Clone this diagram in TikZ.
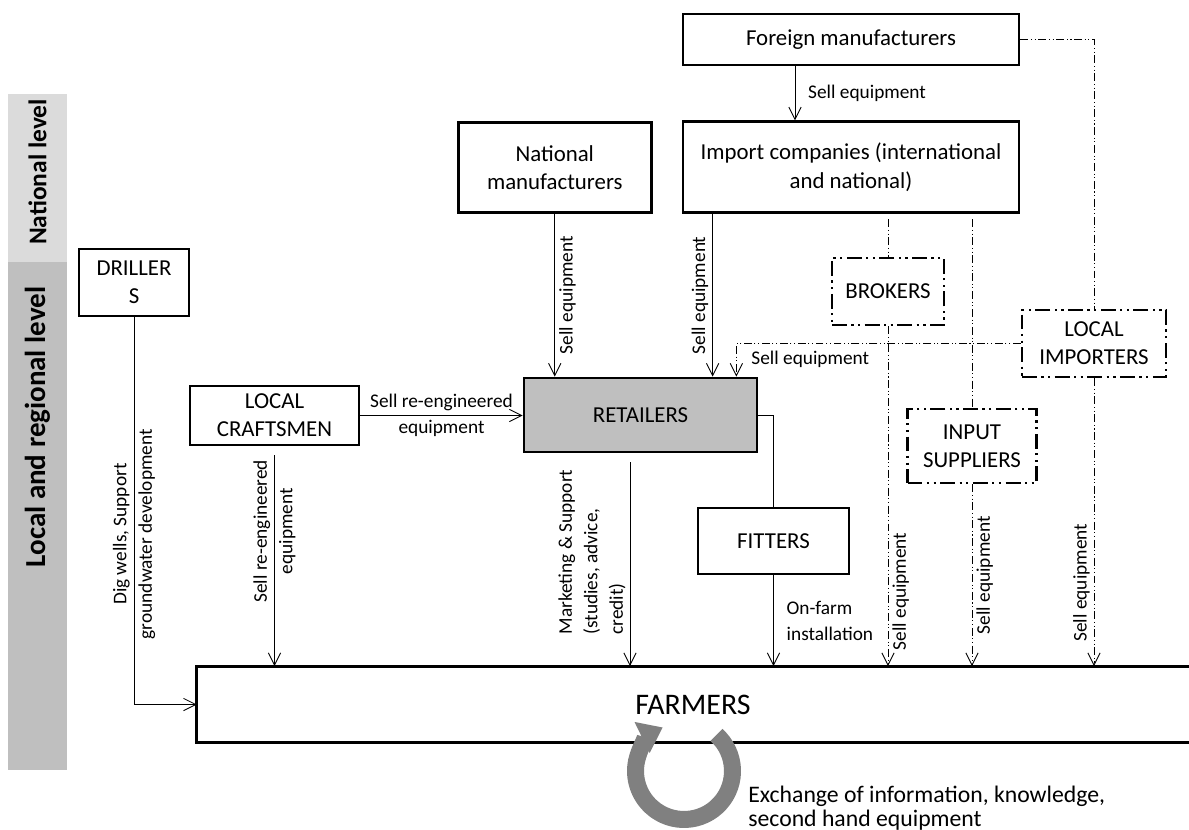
\documentclass[tikz,border=0pt]{standalone}
\usepackage{fontspec}
\setmainfont{Carlito}
\usetikzlibrary{positioning,arrows.meta}

\begin{document}
\begin{tikzpicture}[x=0.02cm, y=-0.02cm,
    box/.style={draw, line width=1.6pt, inner sep=0pt, align=center,
      font=\fontsize{13}{16}\selectfont},
    dbox/.style={box, dash pattern=on 8.5pt off 2.5pt on 1.3pt off 2.5pt on 1.3pt off 2.5pt},
    lbl/.style={inner sep=0pt, outer sep=2.5pt, align=center,
      font=\fontsize{11}{14.5}\selectfont},
    vlbl/.style={lbl, rotate=90},
    flow/.style={line width=0.5pt, -{Straight Barb[length=7pt,width=7pt]}},
    dline/.style={line width=0.5pt, dash pattern=on 4.5pt off 1.5pt on 0.6pt off 1.5pt on 0.6pt off 1.5pt},
    dflow/.style={flow, dline},
    level/.style={rotate=90, inner sep=0pt, font=\fontsize{#1}{18}\selectfont\bfseries}]

  \useasboundingbox (0,0) rectangle (1189,830);

  % levels
  \fill[black!14] (8,94) rectangle (67,262);
  \fill[black!25] (8,262) rectangle (67,770);
  \node[level=14.5] (natlev) at (37.5,172) {National level};
  \node[level=16.5] (loclev) at (37.5,427) {Local and regional level};

  \node[box, minimum width=6.72cm, minimum height=1.02cm] (frgn) at (851,39.5) {Foreign manufacturers};
    \node[box, minimum width=6.72cm, minimum height=1.82cm] (imp) [below=1.08cm of frgn] {Import companies (international\\and national)};
    \node[box, minimum width=3.86cm, minimum height=1.8cm] (natm) [left=0.58cm of imp] {National\\manufacturers};

  \node[box, fill=black!25, minimum width=4.66cm, minimum height=1.48cm] (ret) at (640.5,415) {RETAILERS};
  \node[box, minimum width=3.38cm, minimum height=1.18cm] (lcr) at (274.5,415.5) {LOCAL\\CRAFTSMEN};
  \node[box, minimum width=2.2cm, minimum height=1.34cm] (drl) at (134,282.5) {DRILLER\\S};
  \node[box, minimum width=3.02cm, minimum height=1.32cm] (fit) at (773.5,541) {FITTERS};

  \node[dbox, minimum width=2.24cm, minimum height=1.34cm] (brk) at (888,291.5) {BROKERS};
  \node[dbox, minimum width=2.88cm, minimum height=1.34cm] (limp) at (1094,343.5) {LOCAL\\IMPORTERS};
  \node[dbox, minimum width=2.58cm, minimum height=1.48cm] (inp) at (972,446) {INPUT\\SUPPLIERS};

  \node[minimum width=19.84cm, minimum height=1.52cm, font=\fontsize{17}{20}\selectfont] (farm) at (693,704.5) {FARMERS};
  \draw[line width=1.6pt] (farm.north east) -- (farm.north west) -- (farm.south west) -- (farm.south east);

  % national supply
  \draw[flow] ([xshift=-1.12cm]frgn.south) -- ([xshift=-1.12cm]imp.north)
    node[lbl, midway, right=5pt] {Sell equipment};
  \draw[flow] (natm.south) -- (natm.south |- ret.north) node[vlbl, midway, anchor=north] {Sell equipment};
  \coordinate (impout) at ([xshift=0.62cm]imp.south west);
  \draw[flow] (impout) -- (impout |- ret.north) node[vlbl, midway, anchor=south] {Sell equipment};

  % informal channels
  \coordinate (retin) at ([xshift=-0.44cm]ret.north east);
  \draw[dflow] (limp.west) -- (limp.west -| retin) node[lbl, pos=0.74, below=2pt] {Sell equipment} -- (retin);
  \draw[dline, shorten <=3pt] (brk.north |- imp.south) -- (brk.north);
  \draw[dflow] (brk.south) -- (brk.south |- farm.north) node[vlbl, pos=0.78, anchor=north] {Sell equipment};
  \draw[dline, shorten <=3pt] (inp.north |- imp.south) -- (inp.north);
  \draw[dflow] (inp.south) -- (inp.south |- farm.north) node[vlbl, midway, anchor=north] {Sell equipment};
  \draw[dline] (frgn.east) -| (limp.north);
  \draw[dflow] (limp.south) -- (limp.south |- farm.north) node[vlbl, pos=0.71, anchor=south] {Sell equipment};

  % local level
  \draw[line width=0.5pt] (ret.east) -| (fit.north);
  \draw[flow] (fit.south) -- (fit.south |- farm.north) node[lbl, midway, right=5pt, align=left] {On-farm\\installation};
  \coordinate (mkt) at ([xshift=-0.21cm, yshift=-0.18cm]ret.south);
  \draw[flow] (mkt) -- (mkt |- farm.north) node[vlbl, pos=0.44, anchor=south, align=left] {Marketing \& Support\\(studies, advice,\\credit)};
  \coordinate (lcrout) at ([yshift=-0.18cm]lcr.south);
  \draw[flow] (lcrout) -- (lcrout |- farm.north) node[vlbl, pos=0.36] {Sell re-engineered\\equipment};
  \draw[flow] (drl.south) |- (farm.west) node[vlbl, pos=0.28] {Dig wells, Support\\groundwater development};
  \draw[flow] (lcr.east) -- (lcr.east -| ret.west) node[lbl, midway] {Sell re-engineered\\equipment};

  % farmer to farmer
  \coordinate (xloop) at (684,771);
  \draw[black!50, line width=0.34cm, -{Triangle[length=0.46cm,width=0.66cm]}]
    ([shift={(48:0.97cm)}]xloop) arc[start angle=48, end angle=-244, radius=0.97cm];
  \node[font=\fontsize{13.5}{13.5}\selectfont, align=left, anchor=west, inner sep=0pt] (xch) at (748,808.5) {Exchange of information, knowledge,\\second hand equipment};

\end{tikzpicture}
\end{document}
